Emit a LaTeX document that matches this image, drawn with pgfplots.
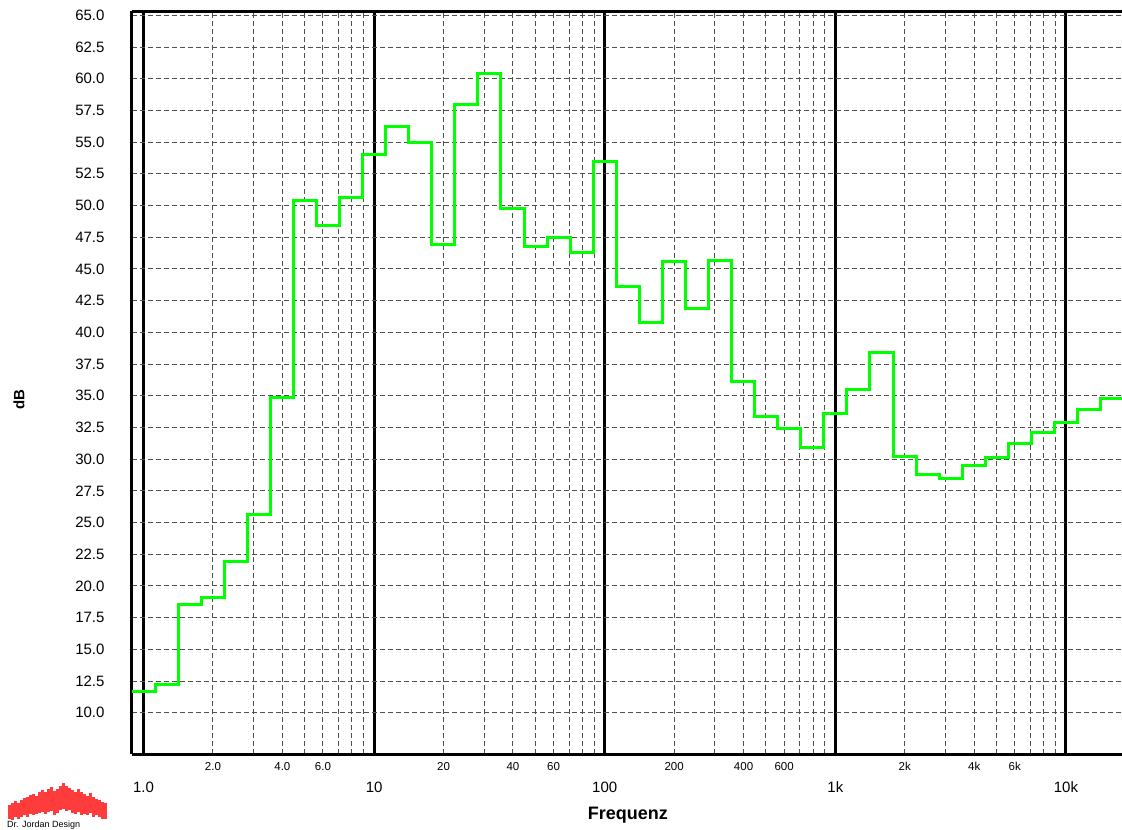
\documentclass[border=0pt]{standalone}
\usepackage{pgfplots}
\pgfplotsset{compat=1.18}
\usepackage{pgfplotstable}
\usepackage{fontspec}
\setmainfont{Liberation Sans}

\definecolor{spek}{RGB}{0,255,0}
\definecolor{gridgray}{RGB}{80,80,80}
\definecolor{logored}{RGB}{255,60,60}

% 1/10-decade band levels: lower band edge (Hz) and level (dB);
% the last row closes the final band at its upper edge
\pgfplotstableread{
f       L
0.8913  11.7
1.1220  12.2
1.4125  18.5
1.7783  19.1
2.2387  21.9
2.8184  25.6
3.5481  34.9
4.4668  50.4
5.6234  48.4
7.0795  50.6
8.9125  54.0
11.220  56.2
14.125  55.0
17.783  46.9
22.387  58.0
28.184  60.4
35.481  49.8
44.668  46.8
56.234  47.5
70.795  46.3
89.125  53.5
112.20  43.6
141.25  40.8
177.83  45.6
223.87  41.9
281.84  45.7
354.81  36.1
446.68  33.4
562.34  32.4
707.95  30.9
891.25  33.6
1122.0  35.5
1412.5  38.4
1778.3  30.2
2238.7  28.8
2818.4  28.5
3548.1  29.5
4466.8  30.1
5623.4  31.2
7079.5  32.1
8912.5  32.9
11220   33.9
14125   34.8
17783   34.8
}\banddata

\begin{document}
\begin{tikzpicture}
\begin{semilogxaxis}[
  name=ax,
  scale only axis,
  width=991.6pt, height=742.5pt,
  xmin=0.8913, xmax=17783,
  ymin=6.75, ymax=65.3,
  axis y line*=left, axis x line*=box,
  axis line style={line width=3pt, black},
  major tick length=0pt, minor tick length=0pt,
  xtick={1,10,100,1000,10000},
  xticklabels={1.0,10,100,1k,10k},
  xticklabel style={anchor=center, yshift=-33pt, font=\fontsize{15}{16}\selectfont},
  extra x ticks={2,4,6,20,40,60,200,400,600,2000,4000,6000},
  extra x tick labels={2.0,4.0,6.0,20,40,60,200,400,600,2k,4k,6k},
  extra x tick style={grid=none,
    every x tick label/.style={anchor=center, yshift=-12.7pt, font=\fontsize{11.5}{12}\selectfont}},
  minor xtick={0.9,2,3,4,5,6,7,8,9,20,30,40,50,60,70,80,90,
    200,300,400,500,600,700,800,900,2000,3000,4000,5000,6000,7000,8000,9000},
  ytick={10,12.5,...,65},
  /pgf/number format/assume math mode=true,
  yticklabel style={/pgf/number format/fixed, /pgf/number format/fixed zerofill,
    /pgf/number format/precision=1, anchor=east, xshift=-24pt,
    font=\fontsize{15}{16}\selectfont},
  grid=both,
  major x grid style={black, line width=3pt, solid},
  minor x grid style={gridgray, line width=1pt, dash pattern=on 5pt off 3pt},
  major y grid style={gridgray, line width=1pt, dash pattern=on 5pt off 3pt},
  xlabel={Frequenz},
  ylabel={dB},
  every axis x label/.style={at={(axis description cs:0.5,0)}, anchor=center,
    yshift=-61pt, font=\fontsize{18}{20}\selectfont\bfseries},
  every axis y label/.style={at={(axis description cs:-0.114,0.477)}, anchor=center,
    rotate=90, font=\fontsize{15}{16}\selectfont\bfseries},
]
\addplot[const plot mark left, spek, line width=3pt, line join=miter] table[x=f, y=L] {\banddata};
\end{semilogxaxis}

% company logo in the lower left corner
\begin{scope}[shift={(ax.south west)}, x=1pt, y=1pt]
  \foreach \i/\t/\b in {0/805/819,1/803/820,2/801/817,3/803/819,4/800/817,5/798/815,
      6/797/817,7/795/814,8/794/815,9/796/814,10/792/813,11/790/812,12/792/814,
      13/789/812,14/787/811,15/791/815,16/789/813,17/786/810,18/783/809,19/786/811,
      20/788/810,21/790/813,22/792/814,23/789/812,24/792/815,25/794/814,26/796/815,
      27/793/813,28/797/817,29/799/815,30/800/817,31/802/819,32/803/819}{
    \fill[logored] ({8+3*\i-132},{754-\t}) rectangle ({11+3*\i-132},{754-\b});
  }
  \node[anchor=north west, inner sep=0pt, font=\fontsize{9}{10}\selectfont]
    at (-125,-67) {Dr. Jordan Design};
\end{scope}

\pgfresetboundingbox
\useasboundingbox ([shift={(-132pt,-76pt)}]ax.south west) rectangle ([shift={(990pt,754pt)}]ax.south west);
\end{tikzpicture}
\end{document}
